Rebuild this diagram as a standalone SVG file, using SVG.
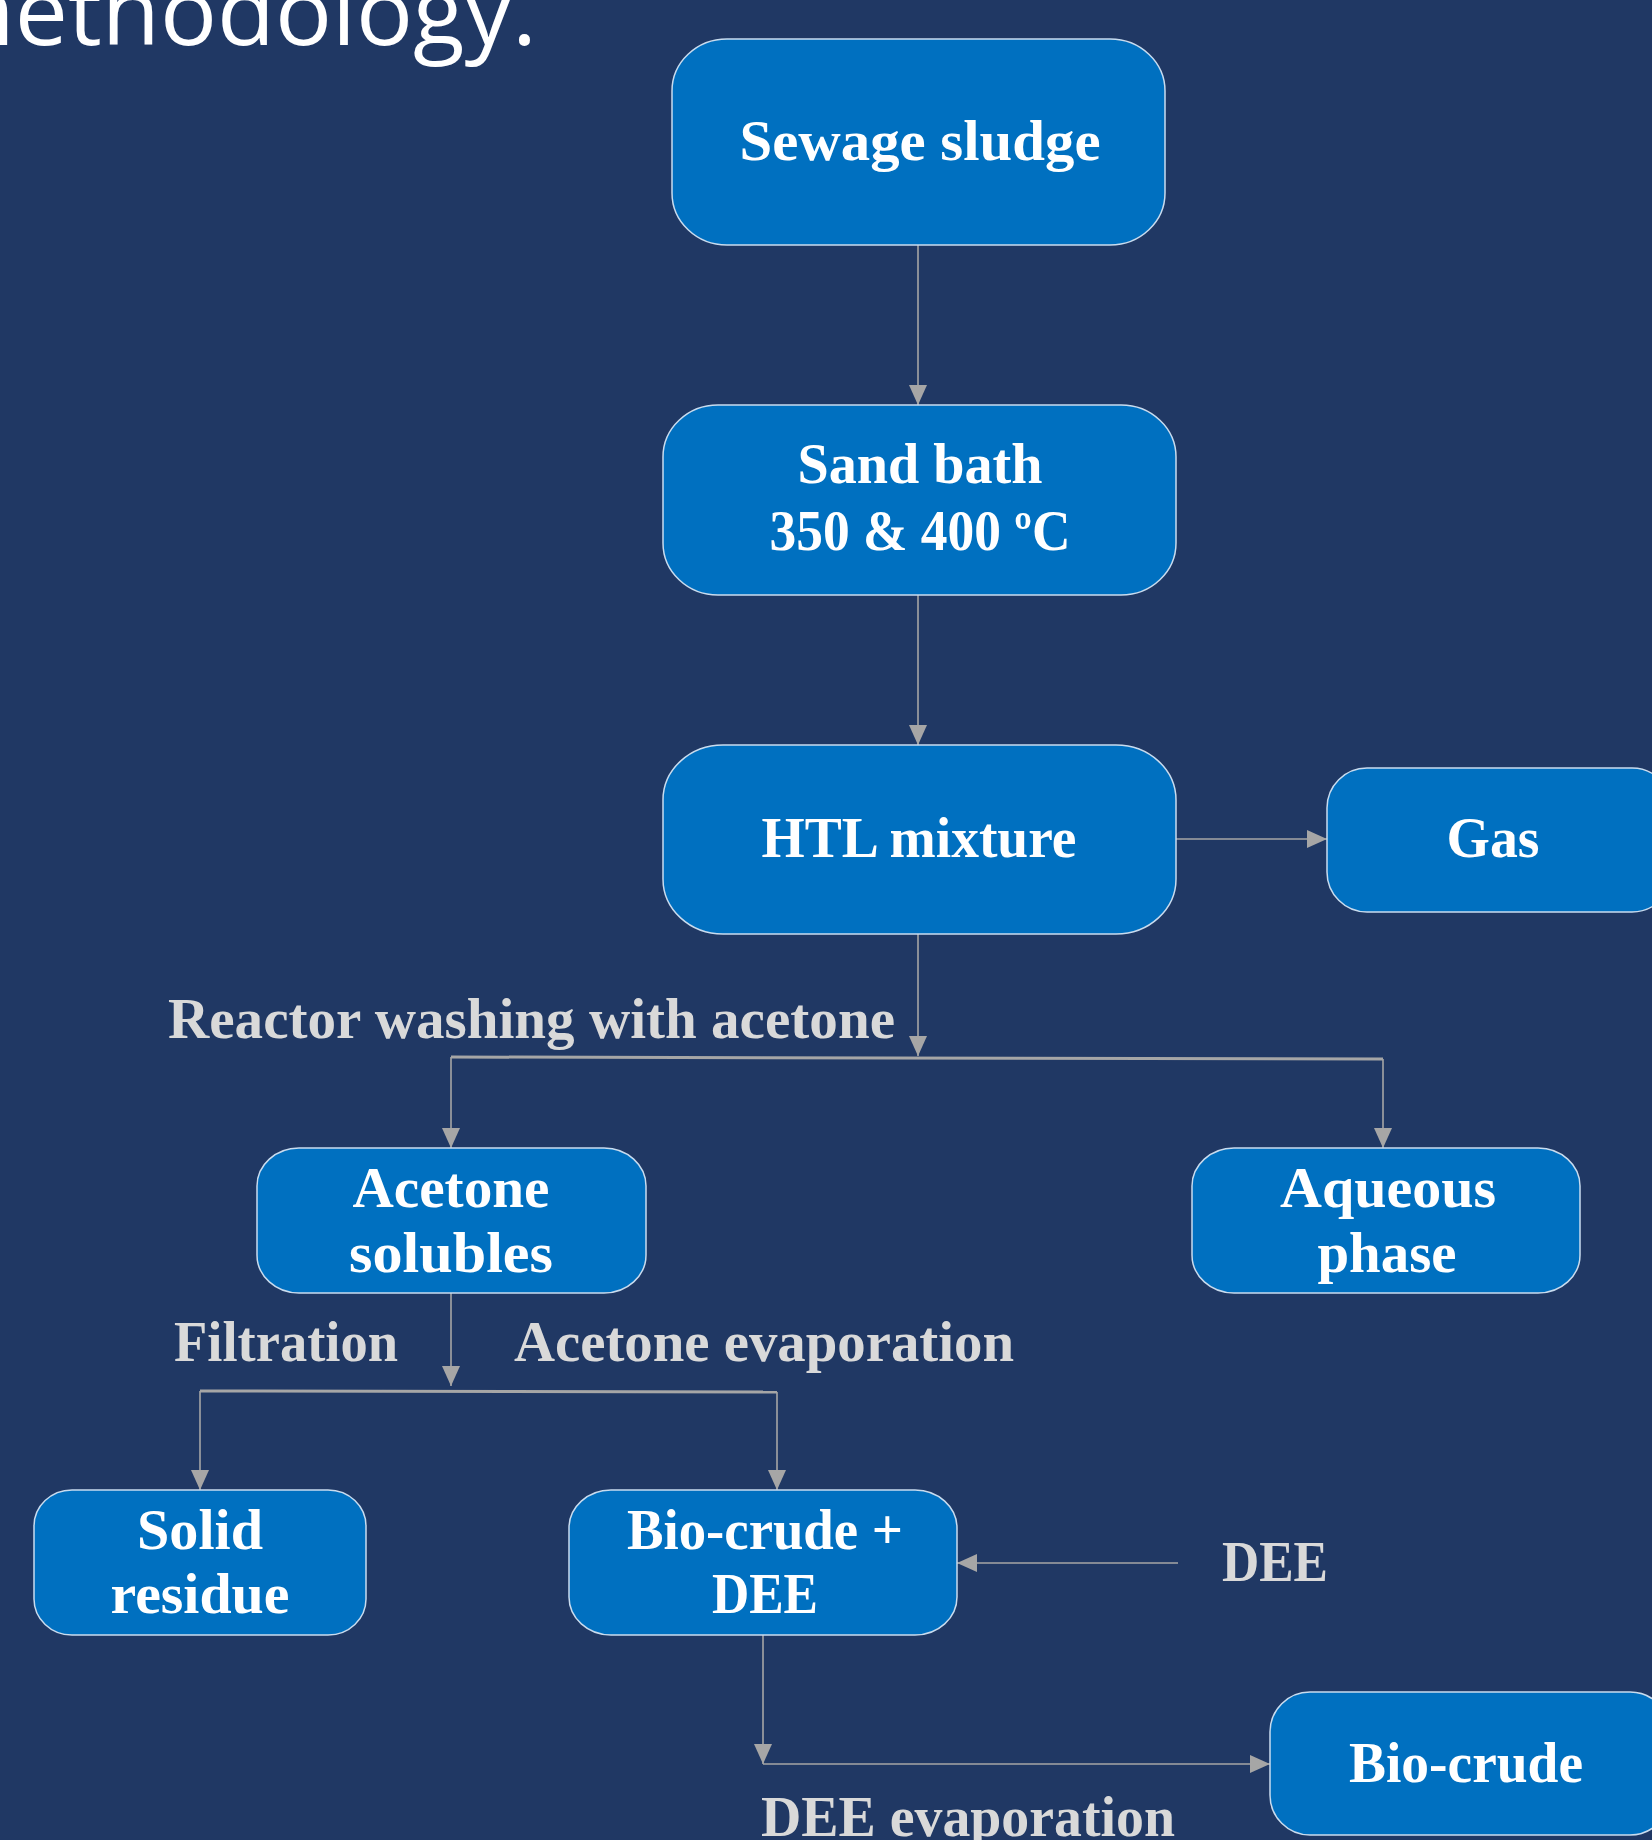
<svg xmlns="http://www.w3.org/2000/svg" width="1652" height="1840" viewBox="0 0 1652 1840">
<defs>
<style>
.box{fill:#0070C0;stroke:#c9dcef;stroke-width:1.5}
.bt{font-family:"Liberation Serif","Times New Roman",serif;font-weight:bold;font-size:56px;fill:#ffffff;text-anchor:middle}
.lt{font-family:"Liberation Serif","Times New Roman",serif;font-weight:bold;font-size:56px;fill:#d9d9d9}
.c{stroke:#a6a6a6;stroke-width:1.6;fill:none}
.bar{stroke:#a6a6a6;stroke-width:3;fill:none}
</style>
<marker id="ah" markerUnits="userSpaceOnUse" markerWidth="20" markerHeight="18" viewBox="0 0 20 18" refX="20" refY="9" orient="auto">
<path d="M0,0 L20,9 L0,18 Z" fill="#a6a6a6"/>
</marker>
</defs>
<rect x="0" y="0" width="1652" height="1840" fill="#203864"/>
<text x="-73" y="45" font-family="'Open Sans','Noto Sans',sans-serif" font-size="94" fill="#ffffff" textLength="610" lengthAdjust="spacingAndGlyphs">methodology.</text>

<g id="connectors">
<line class="c" x1="918" y1="245" x2="918" y2="405" marker-end="url(#ah)"/>
<line class="c" x1="918" y1="595" x2="918" y2="745" marker-end="url(#ah)"/>
<line class="c" x1="1176" y1="839" x2="1327" y2="839" marker-end="url(#ah)"/>
<line class="c" x1="918" y1="934" x2="918" y2="1056" marker-end="url(#ah)"/>
<line class="bar" x1="451" y1="1057" x2="1383" y2="1059"/>
<line class="c" x1="451" y1="1057" x2="451" y2="1148" marker-end="url(#ah)"/>
<line class="c" x1="1383" y1="1059" x2="1383" y2="1148" marker-end="url(#ah)"/>
<line class="c" x1="451" y1="1293" x2="451" y2="1386" marker-end="url(#ah)"/>
<line class="bar" x1="200" y1="1391" x2="777" y2="1392"/>
<line class="c" x1="200" y1="1391" x2="200" y2="1490" marker-end="url(#ah)"/>
<line class="c" x1="777" y1="1392" x2="777" y2="1490" marker-end="url(#ah)"/>
<line class="c" x1="1178" y1="1563" x2="957" y2="1563" marker-end="url(#ah)"/>
<line class="c" x1="763" y1="1635" x2="763" y2="1764" marker-end="url(#ah)"/>
<line class="c" x1="763" y1="1764" x2="1270" y2="1764" marker-end="url(#ah)"/>
</g>

<g id="labels">
<text class="lt" x="168" y="1038" textLength="727" lengthAdjust="spacingAndGlyphs">Reactor washing with acetone</text>
<text class="lt" x="174" y="1361" textLength="224" lengthAdjust="spacingAndGlyphs">Filtration</text>
<text class="lt" x="514" y="1361" textLength="500" lengthAdjust="spacingAndGlyphs">Acetone evaporation</text>
<text class="lt" x="1222" y="1581" textLength="106" lengthAdjust="spacingAndGlyphs">DEE</text>
<text class="lt" x="761" y="1836" textLength="414" lengthAdjust="spacingAndGlyphs">DEE evaporation</text>
</g>

<g id="sewage-sludge">
<rect class="box" x="672" y="39" width="493" height="206" rx="55" ry="52"/>
<text class="bt" x="920" y="160" textLength="361" lengthAdjust="spacingAndGlyphs">Sewage sludge</text>
</g>
<g id="sand-bath">
<rect class="box" x="663" y="405" width="513" height="190" rx="55" ry="52"/>
<text class="bt" x="920" y="483" textLength="245" lengthAdjust="spacingAndGlyphs">Sand bath</text>
<text class="bt" x="920" y="550" textLength="301" lengthAdjust="spacingAndGlyphs">350 &amp; 400 ºC</text>
</g>
<g id="htl-mixture">
<rect class="box" x="663" y="745" width="513" height="189" rx="60" ry="55"/>
<text class="bt" x="919" y="857" textLength="315" lengthAdjust="spacingAndGlyphs">HTL mixture</text>
</g>
<g id="gas">
<rect class="box" x="1327" y="768" width="345" height="144" rx="40" ry="40"/>
<text class="bt" x="1493" y="857" textLength="93" lengthAdjust="spacingAndGlyphs">Gas</text>
</g>
<g id="acetone-solubles">
<rect class="box" x="257" y="1148" width="389" height="145" rx="42" ry="38"/>
<text class="bt" x="451" y="1207" textLength="197" lengthAdjust="spacingAndGlyphs">Acetone</text>
<text class="bt" x="451" y="1272" textLength="204" lengthAdjust="spacingAndGlyphs">solubles</text>
</g>
<g id="aqueous-phase">
<rect class="box" x="1192" y="1148" width="388" height="145" rx="42" ry="38"/>
<text class="bt" x="1388" y="1207" textLength="216" lengthAdjust="spacingAndGlyphs">Aqueous</text>
<text class="bt" x="1387" y="1272" textLength="139" lengthAdjust="spacingAndGlyphs">phase</text>
</g>
<g id="solid-residue">
<rect class="box" x="34" y="1490" width="332" height="145" rx="38" ry="36"/>
<text class="bt" x="200" y="1549" textLength="126" lengthAdjust="spacingAndGlyphs">Solid</text>
<text class="bt" x="200" y="1613" textLength="179" lengthAdjust="spacingAndGlyphs">residue</text>
</g>
<g id="bio-crude-dee">
<rect class="box" x="569" y="1490" width="388" height="145" rx="42" ry="38"/>
<text class="bt" x="765" y="1549" textLength="276" lengthAdjust="spacingAndGlyphs">Bio-crude +</text>
<text class="bt" x="765" y="1613" textLength="106" lengthAdjust="spacingAndGlyphs">DEE</text>
</g>
<g id="bio-crude">
<rect class="box" x="1270" y="1692" width="400" height="143" rx="40" ry="40"/>
<text class="bt" x="1466" y="1782" textLength="234" lengthAdjust="spacingAndGlyphs">Bio-crude</text>
</g>
</svg>
